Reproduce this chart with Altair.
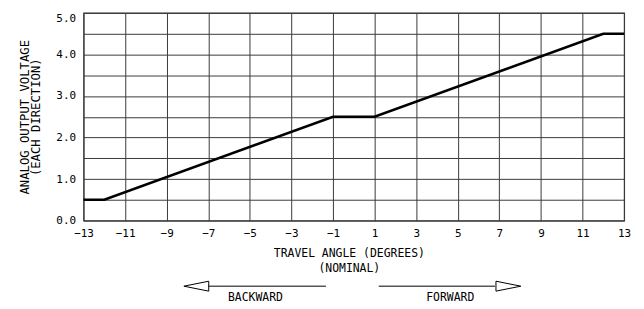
import altair as alt
import pandas as pd

# Data
angle = [-13, -12, -1, 1, 12, 13]
voltage = [0.5, 0.5, 2.5, 2.5, 4.5, 4.5]

x_grid = list(range(-13, 14))
y_grid = [i * 0.5 for i in range(11)]

# annotation arrows (x in degrees)
arrow_labels = ["BACKWARD", "FORWARD"]
arrow_start = [-6.98, 1.2]
arrow_end = [-1.34, 6.79]
arrow_head_x = [-7.575, 7.435]
arrow_text_x = [-4.73, 4.64]

FONT = "DejaVu Sans Mono"

df = pd.DataFrame({"angle": angle, "voltage": voltage})
arr = pd.DataFrame({"label": arrow_labels, "x1": arrow_start, "x2": arrow_end,
                    "hx": arrow_head_x, "tx": arrow_text_x})

xscale = alt.Scale(domain=[-13, 13], nice=False, zero=False)
yscale = alt.Scale(domain=[0, 5], nice=False, zero=False)

xaxis = alt.Axis(
    values=x_grid, ticks=False, tickSize=0, domain=False, grid=True,
    gridColor="#3a3a3a", gridWidth=1, gridOpacity=1,
    labelExpr="(datum.value % 2 != 0 || datum.value == 0) ? format(datum.value, 'd') : ''",
    labelOverlap=False, labelFlush=False, labelFont=FONT, labelFontSize=11,
    labelColor="black", labelPadding=13, labelBaseline="middle",
    title=["TRAVEL ANGLE (DEGREES)", "(NOMINAL)"], titleFont=FONT, titleFontSize=11.5,
    titleFontWeight="normal", titleColor="black", titleX=267, titleY=33.5,
    titleBaseline="middle", titleAlign="center", titleLineHeight=15,
)
yaxis = alt.Axis(
    values=y_grid, ticks=False, tickSize=0, domain=False, grid=True,
    gridColor="#3a3a3a", gridWidth=1, gridOpacity=1,
    labelExpr="datum.value % 1 == 0 ? format(datum.value, '.1f') : ''",
    labelOverlap=False, labelFlush=False, labelFont=FONT, labelFontSize=11,
    labelColor="black", labelPadding=8,
    labelBaseline={"condition": {"test": "datum.value == 5", "value": "top"}, "value": "middle"},
    title=["ANALOG OUTPUT VOLTAGE", "(EACH DIRECTION)"], titleFont=FONT, titleFontSize=12.3,
    titleFontWeight="normal", titleColor="black", titleAngle=270,
    titleX=-59.5, titleY=104.5, titleBaseline="middle", titleAlign="center",
    titleLineHeight=11,
)

line = alt.Chart(df).mark_line(color="black", strokeWidth=2.6).encode(
    x=alt.X("angle:Q", scale=xscale, axis=xaxis),
    y=alt.Y("voltage:Q", scale=yscale, axis=yaxis),
)

rules = alt.Chart(arr).mark_rule(color="black", strokeWidth=1).encode(
    x=alt.X("x1:Q", scale=xscale), x2="x2:Q", y=alt.value(275)
)

left_head = alt.Chart(arr[arr.label == "BACKWARD"]).mark_point(
    shape="M-1,0L1,-0.4L1,0.4Z", size=625, filled=False, color="black",
    strokeWidth=1, opacity=1
).encode(x=alt.X("hx:Q", scale=xscale), y=alt.value(275))

right_head = alt.Chart(arr[arr.label == "FORWARD"]).mark_point(
    shape="M1,0L-1,-0.4L-1,0.4Z", size=625, filled=False, color="black",
    strokeWidth=1, opacity=1
).encode(x=alt.X("hx:Q", scale=xscale), y=alt.value(275))

texts = alt.Chart(arr).mark_text(
    font=FONT, fontSize=11.5, color="black", baseline="middle", align="center"
).encode(x=alt.X("tx:Q", scale=xscale), y=alt.value(287), text="label:N")

chart = alt.layer(line, rules, left_head, right_head, texts).properties(
    width=544, height=209,
    padding={"left": 76, "top": 4, "right": 12, "bottom": 85},
    autosize=alt.AutoSizeParams(type="none"),
).configure_view(stroke="#3a3a3a", strokeWidth=1.2)

chart.save("out.html", embed_options={"renderer": "svg", "actions": False})
